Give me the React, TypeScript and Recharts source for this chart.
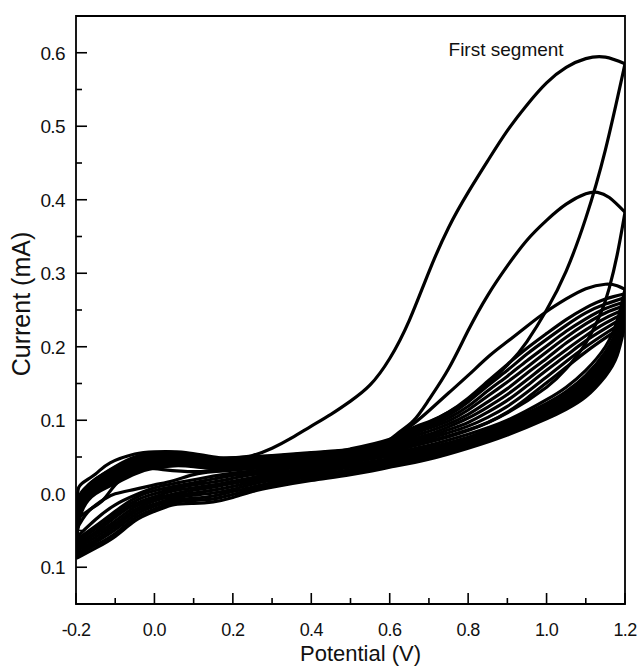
import React from 'react';
import { LineChart, Line, XAxis, YAxis, ReferenceArea, ReferenceDot } from 'recharts';

type P = [number, number];

// ---- First three cycles: (Potential V, Current mA) pairs ----
const cycle1Forward: P[] = [
  [0.0, 0.05], [0.1, 0.048], [0.2, 0.049], [0.25, 0.052], [0.3, 0.062], [0.35, 0.076], [0.4, 0.092],
  [0.45, 0.108], [0.5, 0.126], [0.55, 0.148], [0.6, 0.184], [0.65, 0.236], [0.7, 0.302], [0.75, 0.362],
  [0.8, 0.41], [0.85, 0.453], [0.9, 0.494], [0.95, 0.529], [1.0, 0.559], [1.05, 0.58], [1.1, 0.592],
  [1.15, 0.594], [1.2, 0.585],
];
const cycle1Reverse: P[] = [
  [-0.2, -0.035], [-0.16, -0.02], [-0.13, -0.008], [-0.1, 0.012], [-0.055, 0.031], [0.0, 0.034],
  [0.1, 0.03], [0.2, 0.035], [0.3, 0.043], [0.4, 0.051], [0.5, 0.061], [0.6, 0.074], [0.7, 0.097],
  [0.8, 0.128], [0.9, 0.175], [0.95, 0.207], [1.0, 0.25], [1.05, 0.303], [1.1, 0.375], [1.15, 0.468],
  [1.2, 0.585],
];
const cycle2Forward: P[] = [
  [-0.2, -0.035], [-0.196, 0.0], [-0.185, 0.014], [-0.15, 0.027], [-0.113, 0.042], [-0.05, 0.054],
  [0.0, 0.057], [0.08, 0.056], [0.167, 0.049], [0.236, 0.05], [0.3, 0.052], [0.4, 0.056], [0.5, 0.06],
  [0.58, 0.068], [0.62, 0.082], [0.66, 0.099], [0.7, 0.128], [0.75, 0.17], [0.8, 0.222], [0.85, 0.27],
  [0.9, 0.31], [0.95, 0.345], [1.0, 0.372], [1.05, 0.394], [1.1, 0.408], [1.13, 0.41], [1.16, 0.403],
  [1.2, 0.383],
];
const cycle2Reverse: P[] = [
  [-0.2, -0.05], [-0.17, -0.025], [-0.13, -0.008], [-0.1, 0.0], [-0.05, 0.006], [0.0, 0.012],
  [0.05, 0.018], [0.1, 0.026], [0.15, 0.03], [0.2, 0.032], [0.3, 0.037], [0.4, 0.043], [0.5, 0.05],
  [0.6, 0.058], [0.7, 0.07], [0.8, 0.086], [0.9, 0.11], [1.0, 0.145], [1.05, 0.17], [1.1, 0.205],
  [1.14, 0.248], [1.16, 0.28], [1.18, 0.325], [1.2, 0.383],
];
const cycle3Forward: P[] = [
  [-0.2, -0.05], [-0.195, -0.01], [-0.18, 0.006], [-0.15, 0.02], [-0.1, 0.037], [-0.05, 0.05],
  [0.0, 0.055], [0.05, 0.056], [0.1, 0.052], [0.15, 0.048], [0.2, 0.048], [0.3, 0.051], [0.4, 0.055],
  [0.5, 0.059], [0.58, 0.067], [0.62, 0.079], [0.66, 0.095], [0.7, 0.113], [0.75, 0.137],
  [0.8, 0.161], [0.855, 0.188], [0.9, 0.207], [0.95, 0.228], [1.0, 0.248], [1.05, 0.265],
  [1.1, 0.279], [1.15, 0.285], [1.18, 0.283], [1.2, 0.278],
];
const cycle3Reverse: P[] = [
  [-0.2, -0.06], [-0.15, -0.035], [-0.1, -0.015], [-0.05, -0.002], [0.0, 0.008], [0.05, 0.014],
  [0.1, 0.019], [0.15, 0.024], [0.2, 0.028], [0.3, 0.034], [0.4, 0.04], [0.5, 0.047], [0.6, 0.055],
  [0.7, 0.066], [0.8, 0.081], [0.9, 0.1], [1.0, 0.128], [1.05, 0.145], [1.1, 0.168], [1.15, 0.2],
  [1.18, 0.235], [1.2, 0.278],
];

// ---- Later cycles share potential grids ----
const forwardPotentials = [
  -0.2, -0.195, -0.18, -0.15, -0.1, -0.05, 0.0, 0.05, 0.1, 0.15, 0.2, 0.3, 0.4, 0.5, 0.6, 0.65, 0.7,
  0.75, 0.8, 0.85, 0.9, 0.95, 1.0, 1.05, 1.1, 1.15, 1.2,
];
const reversePotentials = [
  -0.2, -0.15, -0.1, -0.05, 0.0, 0.05, 0.1, 0.15, 0.2, 0.25, 0.3, 0.4, 0.5, 0.6, 0.7, 0.8, 0.9, 1.0,
  1.05, 1.1, 1.15, 1.18, 1.2,
];

const cycle4ForwardCurrent = [-0.06, -0.02, 0.004, 0.02, 0.036, 0.049, 0.055, 0.056, 0.052, 0.048, 0.048, 0.051, 0.055, 0.059, 0.069, 0.087, 0.098, 0.111, 0.13, 0.153, 0.176, 0.198, 0.218, 0.237, 0.253, 0.265, 0.272];
const cycle4ReverseCurrent = [-0.063, -0.044, -0.024, -0.006, 0.004, 0.01, 0.015, 0.02, 0.025, 0.029, 0.032, 0.038, 0.045, 0.053, 0.063, 0.077, 0.097, 0.123, 0.139, 0.161, 0.193, 0.226, 0.272];
const cycle5ForwardCurrent = [-0.063, -0.025, 0.001, 0.017, 0.033, 0.046, 0.053, 0.054, 0.05, 0.046, 0.046, 0.049, 0.053, 0.057, 0.067, 0.084, 0.095, 0.107, 0.125, 0.147, 0.168, 0.19, 0.21, 0.229, 0.246, 0.258, 0.267];
const cycle5ReverseCurrent = [-0.066, -0.048, -0.028, -0.01, 0.0, 0.007, 0.012, 0.016, 0.021, 0.026, 0.029, 0.035, 0.043, 0.051, 0.061, 0.075, 0.095, 0.12, 0.136, 0.157, 0.189, 0.221, 0.267];
const cycle6ForwardCurrent = [-0.066, -0.03, -0.003, 0.015, 0.031, 0.043, 0.05, 0.052, 0.048, 0.045, 0.045, 0.048, 0.052, 0.056, 0.065, 0.081, 0.092, 0.103, 0.119, 0.14, 0.16, 0.181, 0.201, 0.221, 0.238, 0.252, 0.261];
const cycle6ReverseCurrent = [-0.069, -0.052, -0.032, -0.014, -0.004, 0.004, 0.008, 0.012, 0.017, 0.022, 0.027, 0.033, 0.04, 0.048, 0.059, 0.073, 0.093, 0.118, 0.133, 0.154, 0.185, 0.216, 0.261];
const cycle7ForwardCurrent = [-0.069, -0.035, -0.006, 0.012, 0.028, 0.041, 0.048, 0.05, 0.047, 0.043, 0.043, 0.046, 0.05, 0.054, 0.063, 0.078, 0.089, 0.099, 0.114, 0.133, 0.152, 0.172, 0.193, 0.213, 0.231, 0.246, 0.256];
const cycle7ReverseCurrent = [-0.072, -0.055, -0.037, -0.018, -0.007, 0.0, 0.005, 0.009, 0.014, 0.019, 0.024, 0.03, 0.038, 0.046, 0.057, 0.071, 0.091, 0.115, 0.13, 0.15, 0.181, 0.211, 0.256];
const cycle8ForwardCurrent = [-0.072, -0.038, -0.008, 0.01, 0.025, 0.038, 0.045, 0.047, 0.045, 0.041, 0.041, 0.044, 0.048, 0.052, 0.061, 0.075, 0.085, 0.095, 0.108, 0.125, 0.143, 0.164, 0.184, 0.205, 0.223, 0.239, 0.251];
const cycle8ReverseCurrent = [-0.075, -0.059, -0.041, -0.022, -0.01, -0.003, 0.001, 0.005, 0.01, 0.016, 0.021, 0.028, 0.036, 0.045, 0.055, 0.07, 0.089, 0.113, 0.127, 0.147, 0.177, 0.207, 0.251];
const cycle9ForwardCurrent = [-0.075, -0.04, -0.01, 0.007, 0.022, 0.035, 0.043, 0.045, 0.043, 0.039, 0.039, 0.042, 0.046, 0.051, 0.059, 0.072, 0.081, 0.091, 0.103, 0.118, 0.135, 0.155, 0.176, 0.196, 0.215, 0.232, 0.246];
const cycle9ReverseCurrent = [-0.078, -0.063, -0.045, -0.025, -0.014, -0.006, -0.002, 0.001, 0.006, 0.013, 0.018, 0.025, 0.033, 0.043, 0.053, 0.068, 0.086, 0.11, 0.124, 0.143, 0.172, 0.202, 0.246];
const cycle10ForwardCurrent = [-0.078, -0.042, -0.013, 0.005, 0.02, 0.032, 0.04, 0.043, 0.041, 0.038, 0.038, 0.041, 0.045, 0.05, 0.058, 0.069, 0.078, 0.087, 0.097, 0.111, 0.127, 0.147, 0.168, 0.188, 0.208, 0.225, 0.241];
const cycle10ReverseCurrent = [-0.082, -0.066, -0.049, -0.029, -0.017, -0.009, -0.006, -0.003, 0.003, 0.009, 0.015, 0.023, 0.031, 0.04, 0.051, 0.066, 0.084, 0.107, 0.121, 0.14, 0.168, 0.197, 0.241];
const cycle11ForwardCurrent = [-0.082, -0.044, -0.016, 0.002, 0.017, 0.03, 0.038, 0.041, 0.039, 0.036, 0.036, 0.039, 0.043, 0.048, 0.056, 0.066, 0.075, 0.083, 0.092, 0.104, 0.119, 0.138, 0.159, 0.18, 0.2, 0.218, 0.235];
const cycle11ReverseCurrent = [-0.085, -0.07, -0.054, -0.033, -0.021, -0.012, -0.009, -0.007, -0.001, 0.006, 0.012, 0.02, 0.028, 0.038, 0.049, 0.064, 0.082, 0.105, 0.118, 0.136, 0.164, 0.193, 0.235];
const cycle12ForwardCurrent = [-0.085, -0.045, -0.018, 0.0, 0.014, 0.027, 0.035, 0.038, 0.037, 0.034, 0.034, 0.037, 0.041, 0.046, 0.054, 0.064, 0.072, 0.079, 0.087, 0.097, 0.111, 0.13, 0.151, 0.172, 0.193, 0.212, 0.23];
const cycle12ReverseCurrent = [-0.088, -0.074, -0.058, -0.037, -0.024, -0.015, -0.013, -0.011, -0.005, 0.003, 0.009, 0.018, 0.026, 0.036, 0.047, 0.062, 0.08, 0.102, 0.115, 0.132, 0.16, 0.188, 0.23];

const laterForward = [
  cycle4ForwardCurrent, cycle5ForwardCurrent, cycle6ForwardCurrent, cycle7ForwardCurrent, cycle8ForwardCurrent,
  cycle9ForwardCurrent, cycle10ForwardCurrent, cycle11ForwardCurrent, cycle12ForwardCurrent,
];
const laterReverse = [
  cycle4ReverseCurrent, cycle5ReverseCurrent, cycle6ReverseCurrent, cycle7ReverseCurrent, cycle8ReverseCurrent,
  cycle9ReverseCurrent, cycle10ReverseCurrent, cycle11ReverseCurrent, cycle12ReverseCurrent,
];

const xMajorTicks = [-0.2, 0, 0.2, 0.4, 0.6, 0.8, 1.0, 1.2];
const xTickLabels = ['-0.2', '0.0', '0.2', '0.4', '0.6', '0.8', '1.0', '1.2'];
const xMinorTicks = [-0.1, 0.1, 0.3, 0.5, 0.7, 0.9, 1.1];
const yMajorTicks = [-0.1, 0, 0.1, 0.2, 0.3, 0.4, 0.5, 0.6];
const yTickLabels = ['0.1', '0.0', '0.1', '0.2', '0.3', '0.4', '0.5', '0.6'];
const yMinorTicks = [-0.05, 0.05, 0.15, 0.25, 0.35, 0.45, 0.55];

const xDomain: [number, number] = [-0.2, 1.2];
const yDomain: [number, number] = [-0.15, 0.65];

const annotationText = 'First segment';
const annotationAt = { x: 0.75, y: 0.596 };

const FONT = '"Liberation Sans", Arial, Helvetica, sans-serif';

const toRows = (pts: P[]) => pts.map(([x, y]) => ({ x, y })).sort((a, b) => a.x - b.x);
const zip = (xs: number[], ys: number[]): P[] => xs.map((x, i) => [x, ys[i]] as P);

const segments: P[][] = [
  cycle1Forward, cycle1Reverse, cycle2Forward, cycle2Reverse, cycle3Forward, cycle3Reverse,
  ...laterForward.map((ys) => zip(forwardPotentials, ys)),
  ...laterReverse.map((ys) => zip(reversePotentials, ys)),
];

const XTick = (props: any) => {
  const { x, y, payload } = props;
  const idx = xMajorTicks.indexOf(payload.value);
  const major = idx >= 0;
  return (
    <g>
      <line x1={x} y1={y} x2={x} y2={y - (major ? 11 : 6)} stroke="#000" strokeWidth={1.6} />
      {major && (
        <text x={x} y={y + 32} textAnchor="middle" fontSize={18} fontFamily={FONT} fill="#111" letterSpacing={-0.6}>
          {xTickLabels[idx]}
        </text>
      )}
    </g>
  );
};

const YTick = (props: any) => {
  const { x, y, payload } = props;
  const idx = yMajorTicks.indexOf(payload.value);
  const major = idx >= 0;
  return (
    <g>
      <line x1={x} y1={y} x2={x + (major ? 11 : 6)} y2={y} stroke="#000" strokeWidth={1.6} />
      {major && (
        <text x={x - 11} y={y + 7} textAnchor="end" fontSize={19} fontFamily={FONT} fill="#111" letterSpacing={-0.6}>
          {yTickLabels[idx]}
        </text>
      )}
    </g>
  );
};

export default function App() {
  return (
    <div style={{ position: 'absolute', left: 0, top: 0, background: '#fff' }}>
      <LineChart width={641} height={667} margin={{ top: 16, right: 16, bottom: 0, left: 0 }}>
        <XAxis
          type="number"
          dataKey="x"
          domain={xDomain}
          allowDataOverflow
          ticks={[...xMajorTicks, ...xMinorTicks]}
          interval={0}
          tickSize={0}
          tickMargin={0}
          tickLine={false}
          axisLine={false}
          height={63}
          tick={<XTick />}
          label={{
            content: (p: any) => {
              const vb = p.viewBox;
              return (
                <text x={vb.x + vb.width / 2 + 10} y={661} textAnchor="middle" fontSize={22} fontFamily={FONT} fill="#111">
                  Potential (V)
                </text>
              );
            },
          }}
        />
        <YAxis
          type="number"
          dataKey="y"
          domain={yDomain}
          allowDataOverflow
          ticks={[...yMajorTicks, ...yMinorTicks]}
          interval={0}
          tickSize={0}
          tickMargin={0}
          tickLine={false}
          axisLine={false}
          width={76}
          tick={<YTick />}
          label={{
            content: (p: any) => {
              const vb = p.viewBox;
              const cy = vb.y + vb.height / 2 - 6;
              return (
                <text x={0} y={0} transform={`translate(30, ${cy}) rotate(-90)`} textAnchor="middle" fontSize={25} fontFamily={FONT} fill="#111">
                  Current (mA)
                </text>
              );
            },
          }}
        />
        <ReferenceArea
          x1={xDomain[0]}
          x2={xDomain[1]}
          y1={yDomain[0]}
          y2={yDomain[1]}
          fill="none"
          stroke="#000"
          strokeWidth={1.8}
          ifOverflow="visible"
        />
        {segments.map((seg, i) => (
          <Line
            key={i}
            data={toRows(seg)}
            dataKey="y"
            type="natural"
            stroke="#000"
            strokeWidth={3.2}
            strokeLinejoin="round"
            dot={false}
            activeDot={false}
            isAnimationActive={false}
          />
        ))}
        <ReferenceDot
          x={annotationAt.x}
          y={annotationAt.y}
          r={0}
          ifOverflow="visible"
          shape={(p: any) => (
            <text x={p.cx} y={p.cy} fontSize={19} fontFamily={FONT} fill="#111">
              {annotationText}
            </text>
          )}
        />
      </LineChart>
    </div>
  );
}
